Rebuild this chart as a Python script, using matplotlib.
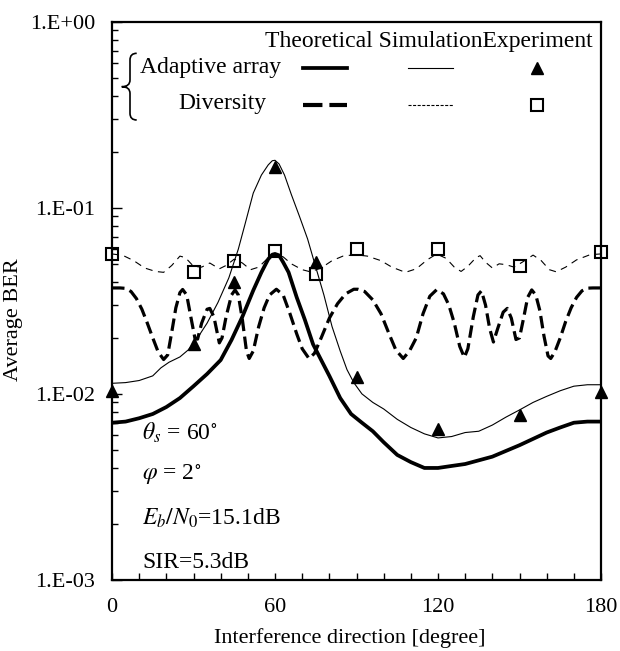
import numpy as np
import matplotlib
matplotlib.use('Agg')
import matplotlib.pyplot as plt
from matplotlib.ticker import FixedLocator, FuncFormatter, LogLocator, NullFormatter, MultipleLocator
from matplotlib.path import Path
from matplotlib.patches import PathPatch

plt.rcParams['font.family'] = ['Liberation Serif', 'DejaVu Serif']
plt.rcParams['mathtext.fontset'] = 'stix'
plt.rcParams['lines.scale_dashes'] = False

# theoretical, adaptive array (thick solid)
theo_aa_x = [0, 5, 10, 15, 20, 25, 30, 35, 40, 44, 48, 52, 55, 57.5, 59, 60, 61.5, 63, 65,
             68, 71, 74, 77, 80, 84, 88, 92, 96, 100, 105, 110, 115, 120, 125, 130, 140,
             150, 160, 165, 170, 175, 180]
theo_aa_y = [0.0070, 0.0071, 0.0074, 0.0078, 0.0085, 0.0095, 0.0110, 0.0128, 0.0152, 0.0195,
             0.0260, 0.0360, 0.0450, 0.0530, 0.0560, 0.0565, 0.0555, 0.0510, 0.0450,
             0.0330, 0.0250, 0.0185, 0.0152, 0.0125, 0.0095, 0.0078, 0.0070, 0.0063, 0.0055,
             0.0047, 0.0043, 0.0040, 0.0040, 0.0041, 0.0042, 0.0046,
             0.0053, 0.0062, 0.0066, 0.0070, 0.0071, 0.0071]

# simulation, adaptive array (thin solid)
sim_aa_x = [0, 5, 10, 15, 18, 21, 25, 28, 31, 35, 39, 43, 46.5, 49, 52, 55, 57.5, 59, 60,
            61.5, 63.5, 66, 69, 72, 75, 78, 81, 84, 86.5, 89, 92, 96, 100, 105, 110, 115,
            120, 125, 130, 135, 140, 145, 150, 155, 160, 165, 170, 175, 180]
sim_aa_y = [0.0114, 0.0115, 0.0118, 0.0125, 0.0138, 0.0148, 0.0158, 0.0172, 0.0195, 0.0240,
            0.0310, 0.0420, 0.0600, 0.0820, 0.1200, 0.1500, 0.1700, 0.1790, 0.1800,
            0.1720, 0.1500, 0.1180, 0.0900, 0.0680, 0.0480, 0.0340, 0.0230, 0.0170, 0.0135,
            0.0115, 0.0100, 0.0090, 0.0083, 0.0073, 0.0066, 0.0061,
            0.0058, 0.0059, 0.0062, 0.0063, 0.0068, 0.0075, 0.0082, 0.0090, 0.0097, 0.0104,
            0.0110, 0.0112, 0.0112]

# theoretical, diversity (thick dashed)
theo_div_x = [0, 3, 5, 7, 9, 11, 13, 15, 17, 19, 20.5, 22, 23.5, 25, 26, 27.5, 29, 30.5,
              31.5, 33, 35, 36, 37.5, 39.5, 40.5, 42, 44, 45.3, 46.5, 48, 49.5, 50.5, 52,
              54, 56, 58, 60.5, 63, 65.5, 68, 70, 72.5, 74.5, 77, 80, 83, 86, 89, 90.5,
              93, 96, 99, 102, 104.5, 107.2, 109.5, 112, 114.5, 117, 119.5, 122, 124, 126,
              128, 129.7, 131, 133, 134.7, 136, 137.5, 139, 140.4, 142, 144, 145.5, 147,
              148.7, 150, 151.5, 153, 154.5, 156, 157.5, 159, 160.5, 161.5, 163, 165, 167,
              169, 171, 173, 175, 177, 180]
theo_div_y = [0.0371, 0.0371, 0.0369, 0.0355, 0.0325, 0.0285, 0.0240, 0.0200, 0.0168, 0.0153,
              0.0162, 0.0215, 0.0290, 0.0350, 0.0364, 0.0340, 0.0260, 0.0200,
              0.0197, 0.0240, 0.0285, 0.0288, 0.0260, 0.0188, 0.0200, 0.0260, 0.0340, 0.0362,
              0.0340, 0.0250, 0.0170, 0.0155, 0.0170,
              0.0230, 0.0290, 0.0340, 0.0365, 0.0340, 0.0270, 0.0210, 0.0175, 0.0155, 0.0165,
              0.0200, 0.0255, 0.0305, 0.0345, 0.0365, 0.0365,
              0.0355, 0.0320, 0.0270, 0.0210, 0.0172, 0.0155, 0.0170, 0.0200, 0.0270, 0.0335,
              0.0363, 0.0345, 0.0300, 0.0240,
              0.0180, 0.0157, 0.0175, 0.0260, 0.0340, 0.0358, 0.0300, 0.0225, 0.0190, 0.0225,
              0.0275, 0.0288, 0.0255,
              0.0196, 0.0200, 0.0255, 0.0330, 0.0362, 0.0340, 0.0280, 0.0205, 0.0160, 0.0155,
              0.0168, 0.0200, 0.0245,
              0.0290, 0.0330, 0.0358, 0.0370, 0.0371, 0.0371]

# simulation, diversity (thin dashed)
sim_div_x = [0, 4, 8, 12, 16, 19, 22, 25, 27, 30, 33, 36, 39.5, 42, 45, 48, 51, 54, 57, 60,
             63, 66, 70, 73, 77, 81, 85, 89.5, 94, 99, 103, 108, 112, 116, 119.5, 123, 126,
             128.5, 131, 134, 135.5, 137.5, 140, 142.5, 145, 148, 151, 155, 158, 161, 163.5,
             167, 171, 176, 180]
sim_div_y = [0.0565, 0.0555, 0.0520, 0.0475, 0.0455, 0.0450, 0.0490, 0.0550, 0.0540, 0.0485,
             0.0480, 0.0505, 0.0470, 0.0490, 0.0530, 0.0505, 0.0465, 0.0480, 0.0530, 0.0570,
             0.0545, 0.0500, 0.0465, 0.0453, 0.0475, 0.0520, 0.0550, 0.0560, 0.0550, 0.0520,
             0.0480, 0.0450, 0.0470, 0.0525, 0.0565, 0.0535, 0.0480,
             0.0455, 0.0485, 0.0540, 0.0553, 0.0510, 0.0475, 0.0500, 0.0495, 0.0480, 0.0510,
             0.0557, 0.0520, 0.0465, 0.0453,
             0.0480, 0.0525, 0.0560, 0.0565]

# experiment
exp_x = [0, 30, 45, 60, 75, 90, 120, 150, 180]
exp_aa = [0.0104, 0.0186, 0.0399, 0.165, 0.0509, 0.0124, 0.0065, 0.0077, 0.0103]
exp_div = [0.0565, 0.0454, 0.0516, 0.0589, 0.0443, 0.0597, 0.0597, 0.0489, 0.0582]

x_ticks = [0, 60, 120, 180]
y_ticks = [1e-3, 1e-2, 1e-1, 1e0]

W, H = 620, 651
L, R, T, B = 112, 601, 21.7, 580

fig = plt.figure(figsize=(W / 100, H / 100), dpi=100)
ax = fig.add_axes([L / W, 1 - B / H, (R - L) / W, (B - T) / H])


def axfrac(px, py):
    # pixel position in the picture -> axes fraction
    return (px - L) / (R - L), (B - py) / (B - T)


ax.plot(theo_div_x, theo_div_y, color='black', lw=2.3, dashes=(9, 4))
ax.plot(sim_div_x, sim_div_y, color='black', lw=0.8, dashes=(5, 4))
ax.plot(theo_aa_x, theo_aa_y, color='black', lw=2.7, solid_joinstyle='round')
ax.plot(sim_aa_x, sim_aa_y, color='black', lw=0.8)
ax.plot(exp_x, exp_aa, '^', color='black', ms=8, clip_on=False, zorder=5)
ax.plot(exp_x, exp_div, 's', mfc='none', mec='black', mew=1.5, ms=9, clip_on=False, zorder=5)

ax.set_xlim(0, 180)
ax.set_yscale('log')
ax.set_ylim(1e-3, 1)
ax.set_xticks(x_ticks)
ax.set_xticklabels([str(t) for t in x_ticks])
ax.xaxis.set_minor_locator(MultipleLocator(10))
ax.yaxis.set_major_locator(FixedLocator(y_ticks))
ax.yaxis.set_major_formatter(FuncFormatter(lambda v, p: f"1.E{int(round(np.log10(v))):+03d}"))
ax.yaxis.set_minor_locator(LogLocator(base=10, subs=np.arange(2, 10)))
ax.yaxis.set_minor_formatter(NullFormatter())

ax.tick_params(which='both', direction='in', top=False, right=False, labelsize=16, width=1)
ax.tick_params(axis='y', which='major', length=7, pad=12)
ax.tick_params(axis='y', which='minor', length=4)
ax.tick_params(axis='x', which='both', length=5, pad=13)
for s in ax.spines.values():
    s.set_linewidth(1.6)

fig.text(14 / W, 1 - 320 / H, 'Average BER', rotation=90, ha='center', va='center', fontsize=16)
fig.text(350 / W, 1 - 638 / H, 'Interference direction [degree]', ha='center', va='center', fontsize=16)

# conditions
ax.text(*axfrac(142, 433), r'$\theta_s$ = 60$^{\circ}$', fontsize=17, va='center', transform=ax.transAxes)
ax.text(*axfrac(142, 475), r'$\varphi$ = 2$^{\circ}$', fontsize=17, va='center', transform=ax.transAxes)
ax.text(*axfrac(142, 518), r'$E_b/N_0$=15.1dB', fontsize=17, va='center', transform=ax.transAxes)
ax.text(*axfrac(142, 562), 'SIR=5.3dB', fontsize=17, va='center', transform=ax.transAxes)

# legend table
ax.text(*axfrac(428.5, 41), 'Theoretical SimulationExperiment', fontsize=17, ha='center', va='center',
        transform=ax.transAxes)
ax.text(*axfrac(140, 67.7), 'Adaptive array', fontsize=17, ha='left', va='center', transform=ax.transAxes)
ax.text(*axfrac(178, 103), 'Diversity', fontsize=17, ha='left', va='center', transform=ax.transAxes)

x0, x1 = axfrac(303, 0)[0], axfrac(347, 0)[0]
y1, y2 = axfrac(0, 67.7)[1], axfrac(0, 105)[1]
ax.plot([x0, x1], [y1, y1], color='black', lw=2.7, transform=ax.transAxes, clip_on=False)
ax.plot([x0, x1], [y2, y2], color='black', lw=3, dashes=(14, 5), transform=ax.transAxes, clip_on=False)
x0, x1 = axfrac(408, 0)[0], axfrac(453, 0)[0]
ax.plot([x0, x1], [y1, y1], color='black', lw=0.8, transform=ax.transAxes, clip_on=False)
ax.plot([x0, x1], [y2, y2], color='black', lw=0.8, dashes=(2.2, 1.1), transform=ax.transAxes, clip_on=False)
xm = axfrac(537, 0)[0]
ax.plot([xm], [y1], '^', color='black', ms=8, transform=ax.transAxes, clip_on=False)
ax.plot([xm], [y2], 's', mfc='none', mec='black', mew=1.5, ms=8, transform=ax.transAxes, clip_on=False)

# brace
bp = [(136.7, 53.3), (130, 53.3), (130, 60), (130, 80), (130, 86.7), (121.7, 86.7),
      (130, 86.7), (130, 93.4), (130, 113.3), (130, 120), (136.7, 120)]
codes = [Path.MOVETO, Path.CURVE3, Path.CURVE3, Path.LINETO, Path.CURVE3, Path.CURVE3,
         Path.CURVE3, Path.CURVE3, Path.LINETO, Path.CURVE3, Path.CURVE3]
brace = PathPatch(Path([axfrac(*p) for p in bp], codes), fill=False, lw=1.2, color='black',
                  transform=ax.transAxes, clip_on=False)
ax.add_patch(brace)

fig.savefig('out.png', dpi=100)
